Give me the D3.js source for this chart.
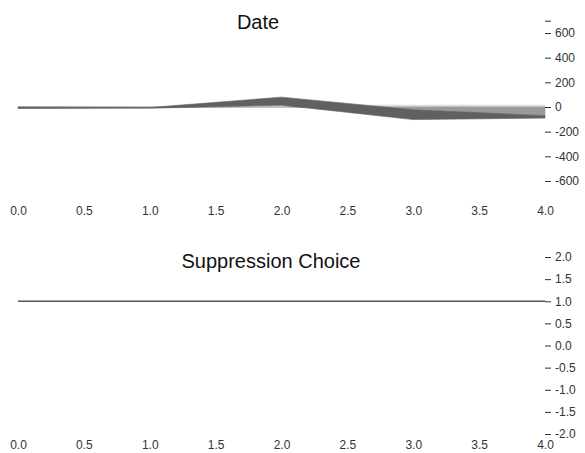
<!DOCTYPE html>
<html>
<head>
<meta charset="utf-8">
<script src="https://cdn.jsdelivr.net/npm/d3@7"></script>
<style>
body { margin: 0; background: #fff; }
svg { font-family: "Liberation Sans", Arial, sans-serif; }
.axis text { font-size: 12px; fill: #333; }
.axis line { stroke: #333; }
.axis .domain { display: none; }
.title { font-size: 20px; fill: #111; text-anchor: middle; }
</style>
</head>
<body>
<svg id="chart" width="585" height="453"></svg>
<script>
// x positions shared by both panels
var steps = [0, 1, 2, 3, 4];
var xTicks = [0, 0.5, 1, 1.5, 2, 2.5, 3, 3.5, 4];

// "Date" panel, three stacked layers
var layerKeys = ["light", "mid", "dark"];
var lightVals = [0, 2, 15, 15, 15];
var midVals = [0, -4, 0, -22, -70];
var darkVals = [-12, -6, 65, -80, -20];
var dateTicks = [-600, -400, -200, 0, 200, 400, 600, 700];

// "Suppression Choice" panel
var choiceVals = [1, 1, 1, 1, 1];
var choiceTicks = [-2, -1.5, -1, -0.5, 0, 0.5, 1, 1.5, 2];

var colors = {light: "#d6d6d6", mid: "#9a9a9a", dark: "#606060"};

var svg = d3.select("#chart");

var x = d3.scaleLinear().domain([0, 4]).range([18, 545]);

// ---- top panel ----
var y1 = d3.scaleLinear().domain([-700, 700]).range([193.3, 20.7]);

var rows = steps.map(function(s, i) {
    return {step: s, light: lightVals[i], mid: midVals[i], dark: darkVals[i]};
});

var series = d3.stack()
    .keys(layerKeys)
    .offset(d3.stackOffsetDiverging)(rows);

var area = d3.area()
    .x(function(d) { return x(d.data.step); })
    .y0(function(d) { return y1(d[0]); })
    .y1(function(d) { return y1(d[1]); });

svg.append("g").selectAll("path")
    .data(series)
    .enter().append("path")
    .attr("d", area)
    .attr("fill", function(d) { return colors[d.key]; })
    .attr("stroke", function(d) { return colors[d.key]; })
    .attr("stroke-width", 0.6);

svg.append("g")
    .attr("class", "axis")
    .attr("transform", "translate(545,0)")
    .call(d3.axisRight(y1).tickValues(dateTicks).tickSize(6).tickPadding(4)
        .tickFormat(function(d) { return d === 700 ? "" : String(d); }));

svg.append("g")
    .attr("class", "axis")
    .attr("transform", "translate(0,203)")
    .call(d3.axisBottom(x).tickValues(xTicks).tickSize(0).tickPadding(3)
        .tickFormat(function(d) { return d.toFixed(1); }));

svg.append("text")
    .attr("class", "title")
    .attr("x", 258)
    .attr("y", 29)
    .text("Date");

// ---- bottom panel ----
var y2 = d3.scaleLinear().domain([-2, 2]).range([434, 257]);

var line = d3.line()
    .x(function(d, i) { return x(steps[i]); })
    .y(function(d) { return y2(d); });

svg.append("path")
    .datum(choiceVals)
    .attr("d", line)
    .attr("fill", "none")
    .attr("stroke", "#555")
    .attr("stroke-width", 1.5);

svg.append("g")
    .attr("class", "axis")
    .attr("transform", "translate(545,0)")
    .call(d3.axisRight(y2).tickValues(choiceTicks).tickSize(6).tickPadding(4)
        .tickFormat(function(d) { return d.toFixed(1); }));

svg.append("g")
    .attr("class", "axis")
    .attr("transform", "translate(0,437)")
    .call(d3.axisBottom(x).tickValues(xTicks).tickSize(0).tickPadding(3)
        .tickFormat(function(d) { return d.toFixed(1); }));

svg.append("text")
    .attr("class", "title")
    .attr("x", 271)
    .attr("y", 268)
    .text("Suppression Choice");
</script>
</body>
</html>
